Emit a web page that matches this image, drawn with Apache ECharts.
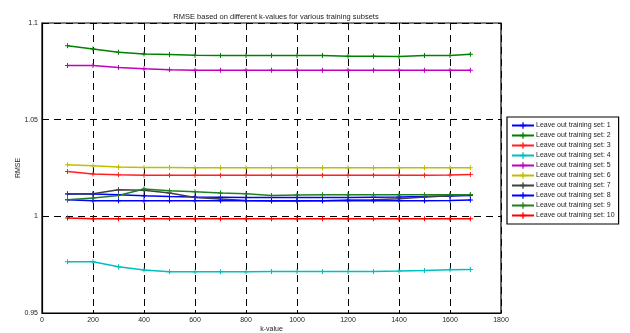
<!DOCTYPE html>
<html><head><meta charset="utf-8">
<script src="https://cdn.jsdelivr.net/npm/echarts@6/dist/echarts.min.js"></script>
<style>html,body{margin:0;padding:0;background:#fff}#c{width:630px;height:333px}</style>
</head><body><div id="c"></div>
<script>
const kValues = [100,200,300,400,500,600,700,800,900,1000,1100,1200,1300,1400,1500,1600,1680];
const seriesNames = ['Leave out training set: 1','Leave out training set: 2','Leave out training set: 3','Leave out training set: 4','Leave out training set: 5','Leave out training set: 6','Leave out training set: 7','Leave out training set: 8','Leave out training set: 9','Leave out training set: 10'];
const set1  = [1.0115,1.0115,1.0112,1.0107,1.0103,1.0100,1.0099,1.0098,1.0098,1.0098,1.0098,1.0098,1.0099,1.0100,1.0102,1.0105,1.0108];
const set2  = [1.0882,1.0865,1.0849,1.0840,1.0837,1.0833,1.0832,1.0832,1.0832,1.0832,1.0832,1.0828,1.0828,1.0827,1.0832,1.0832,1.0839];
const set3  = [1.0232,1.0219,1.0215,1.0213,1.0213,1.0213,1.0213,1.0213,1.0213,1.0213,1.0213,1.0213,1.0213,1.0213,1.0213,1.0214,1.0216];
const set4  = [0.9765,0.9765,0.9739,0.9722,0.9713,0.9713,0.9713,0.9713,0.9715,0.9715,0.9715,0.9715,0.9715,0.9717,0.9720,0.9724,0.9725];
const set5  = [1.0780,1.0780,1.0770,1.0763,1.0758,1.0755,1.0755,1.0755,1.0755,1.0755,1.0755,1.0755,1.0755,1.0755,1.0755,1.0755,1.0755];
const set6  = [1.0267,1.0261,1.0255,1.0253,1.0252,1.0251,1.0251,1.0251,1.0251,1.0251,1.0251,1.0251,1.0251,1.0251,1.0251,1.0251,1.0251];
const set7  = [1.0117,1.0117,1.0138,1.0135,1.0121,1.0098,1.0090,1.0082,1.0079,1.0079,1.0080,1.0084,1.0086,1.0091,1.0100,1.0107,1.0112];
const set8  = [1.0086,1.0081,1.0081,1.0081,1.0081,1.0081,1.0081,1.0081,1.0080,1.0080,1.0080,1.0080,1.0080,1.0080,1.0081,1.0082,1.0085];
const set9  = [1.0086,1.0095,1.0108,1.0141,1.0132,1.0127,1.0121,1.0117,1.0108,1.0110,1.0112,1.0112,1.0112,1.0112,1.0112,1.0112,1.0112];
const set10 = [0.9992,0.9987,0.9987,0.9987,0.9987,0.9987,0.9987,0.9987,0.9987,0.9987,0.9987,0.9987,0.9987,0.9987,0.9987,0.9987,0.9987];
const allSets = [set1,set2,set3,set4,set5,set6,set7,set8,set9,set10];
const colors = ['#0000ff','#008000','#ff2020','#00bfbf','#bf00bf','#bfbf00','#404040','#0000ff','#208020','#ff0000'];
const xTicks = {min:0,max:1800,interval:200};
const yTicks = {min:0.95,max:1.1,interval:0.05};

const plus = 'path://M4,0H6V4H10V6H6V10H4V6H0V4H4Z';
const chart = echarts.init(document.getElementById('c'),null,{renderer:'canvas'});
const font = 'Liberation Sans, Arial, sans-serif';
chart.setOption({
  animation:false,
  backgroundColor:'#fff',
  title:{text:'RMSE based on different k-values for various training subsets',left:271,top:8,textAlign:'center',
    textStyle:{fontSize:7.5,fontWeight:'normal',color:'#222',fontFamily:font}},
  grid:{left:42,right:129,top:23,bottom:20,outerBoundsMode:'none',containLabel:false,show:true,borderColor:'#000',borderWidth:1.2,backgroundColor:'transparent'},
  legend:{orient:'vertical',left:507,top:117,width:112,padding:[5,4,5,4],itemGap:3,itemWidth:22,itemHeight:8,
    borderColor:'#000',borderWidth:1.2,backgroundColor:'#fff',
    textStyle:{fontSize:7,color:'#222',fontFamily:font,padding:[0,0,0,-3]},data:seriesNames},
  xAxis:{type:'value',min:xTicks.min,max:xTicks.max,interval:xTicks.interval,name:'k-value',nameLocation:'middle',nameGap:13,
    nameMoveOverlap:false,
    nameTextStyle:{fontSize:7,color:'#222',fontFamily:font},
    axisLine:{lineStyle:{color:'#000',width:1.2}},axisTick:{inside:true,length:3,lineStyle:{color:'#000'}},
    axisLabel:{fontSize:7,color:'#222',fontFamily:font,margin:4,formatter:v=>String(v)},
    splitLine:{show:true,lineStyle:{color:'#000',type:[7,5],width:1}}},
  yAxis:{type:'value',min:yTicks.min,max:yTicks.max,interval:yTicks.interval,name:'RMSE',nameLocation:'middle',nameGap:20,
    nameMoveOverlap:false,
    nameTextStyle:{fontSize:7,color:'#222',fontFamily:font},
    axisLine:{show:true,lineStyle:{color:'#000',width:1.2}},axisTick:{show:true,inside:true,length:3,lineStyle:{color:'#000'}},
    axisLabel:{fontSize:7,color:'#222',fontFamily:font,margin:4,formatter:v=>String(+v.toFixed(2))},
    splitLine:{show:true,lineStyle:{color:'#000',type:[7,5],width:1}}},
  series: allSets.map((s,i)=>({
    name:seriesNames[i],type:'line',symbol:plus,symbolSize:5,showSymbol:true,
    data:kValues.map((k,j)=>[k,s[j]]),
    lineStyle:{color:colors[i],width:1.5},itemStyle:{color:colors[i]}
  }))
});
</script></body></html>
